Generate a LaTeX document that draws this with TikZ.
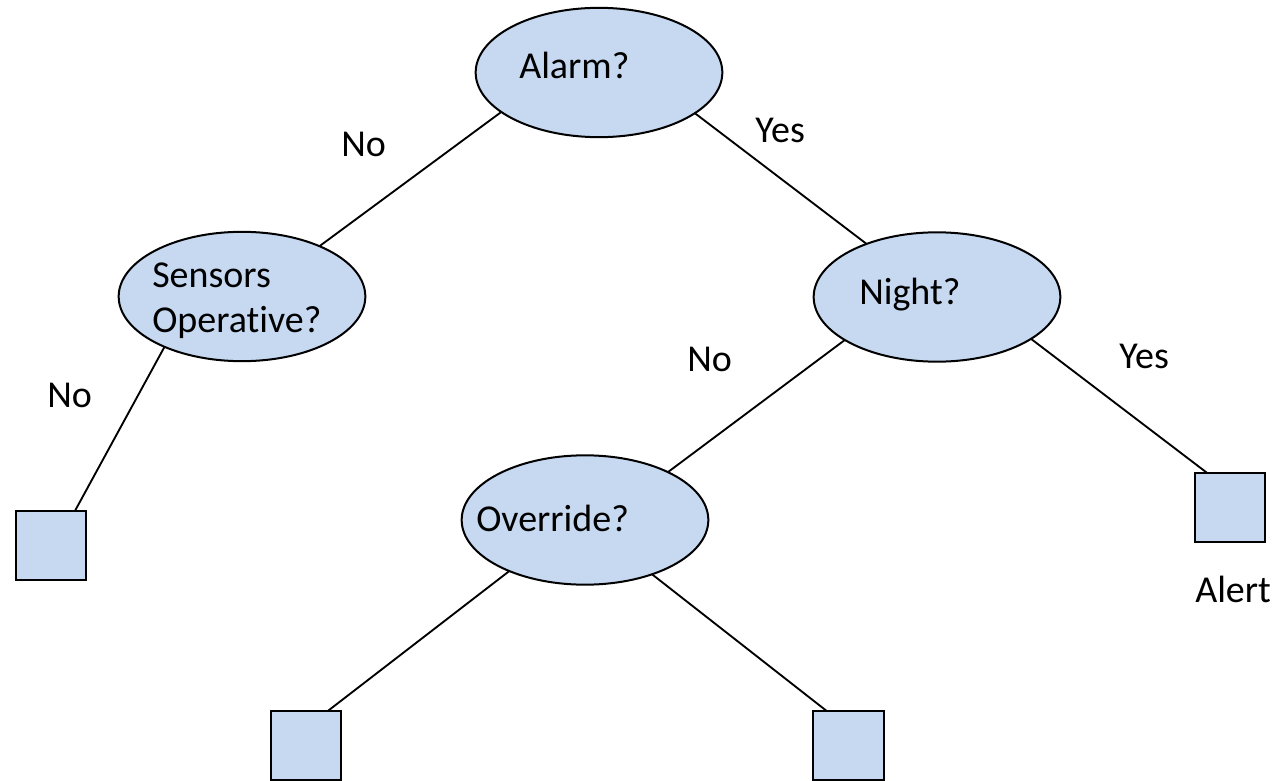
\documentclass[tikz,border=0pt]{standalone}
\usepackage{fontspec}
\setmainfont{Carlito}[Ligatures=NoCommon]
\usetikzlibrary{shapes.geometric}
\definecolor{nodefill}{RGB}{198,217,241}
\tikzset{
  decision/.style={ellipse, draw=black, line width=1.5pt, fill=nodefill, inner sep=0pt, outer sep=0pt, minimum width=185pt, minimum height=97pt},
  leaf/.style={rectangle, draw=black, line width=1.5pt, fill=nodefill, inner sep=0pt, outer sep=0pt, minimum width=53pt, minimum height=52pt},
  txt/.style={anchor=base west, inner sep=0pt, font=\fontsize{28.5pt}{34pt}\selectfont},
  conn/.style={line width=1.4pt, draw=black}
}
\begin{document}
\begin{tikzpicture}[x=0.75pt, y=-0.75pt]
\useasboundingbox (0,0) rectangle (1282,781);
% decision nodes
\node[decision] (A) at (599,72.5) {};
\node[decision] (S) at (242,296.5) {};
\node[decision] (N) at (937,297) {};
\node[decision] (O) at (585,520) {};
% leaves
\node[leaf] (L) at (51,545.5) {};
\node[leaf] (R) at (1230,507.5) {};
\node[leaf] (BL) at (306,745.5) {};
\node[leaf] (BR) at (848.5,745.5) {};
% texts inside
\node[txt] (tA) at (519,79) {Alarm?};
\node[txt] (tS1) at (152,287) {Sensors};
\node[txt] (tS2) at (152,332) {Operative?};
\node[txt] (tN) at (859,304) {Night?};
\node[txt] (tO) at (476,531) {Override?};
% connectors
\draw[conn] (A.202) -- (S.33);
\draw[conn] (A.337) -- (N.143);
\draw[conn] (S.213) -- ([xshift=18pt]L.north);
\draw[conn] (N.205.6) -- (O.30.4);
\draw[conn] (N.336.9) -- ([xshift=-17.25pt]R.north);
\draw[conn] (O.214.3) -- ([xshift=16.5pt]BL.north);
\draw[conn] (O.321) -- ([xshift=-16.5pt]BR.north);
% labels
\node[txt] (l1) at (341,157) {No};
\node[txt] (l2) at (755,143) {Yes};
\node[txt] (l3) at (47,407) {No};
\node[txt] (l4) at (687,371) {No};
\node[txt] (l5) at (1119,368) {Yes};
\node[txt] (l6) at (1195,602) {Alert};
\end{tikzpicture}
\end{document}
